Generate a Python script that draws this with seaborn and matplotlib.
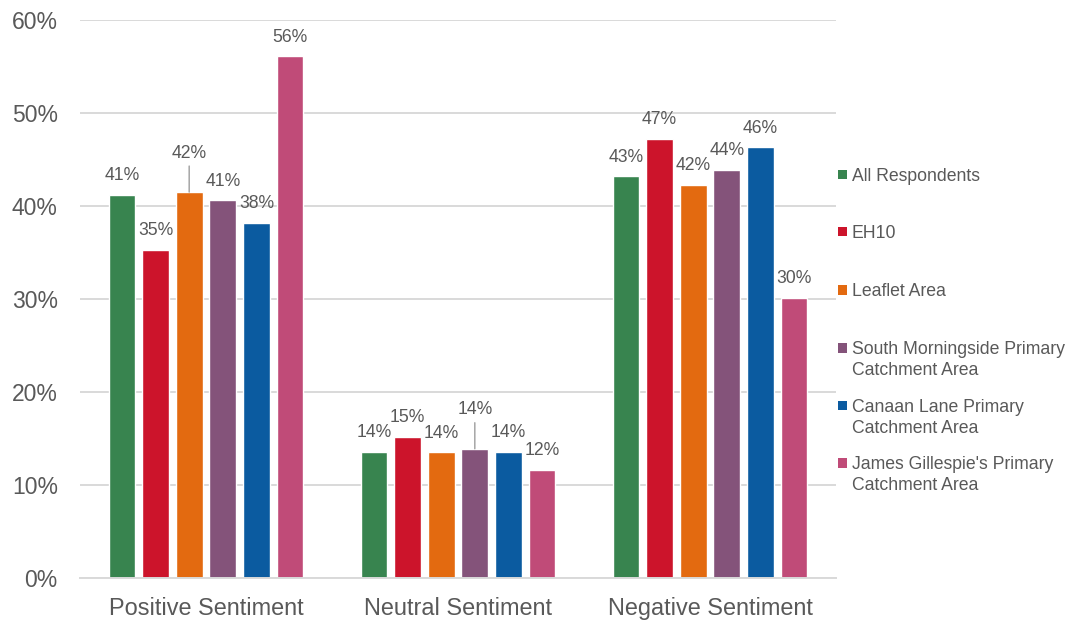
import matplotlib
matplotlib.use("Agg")
import matplotlib.pyplot as plt
from matplotlib.patches import Rectangle
import seaborn as sns
import pandas as pd

# Share of respondents (%) per sentiment, for each area
categories = ["Positive Sentiment", "Neutral Sentiment", "Negative Sentiment"]
groups = [
    "All Respondents",
    "EH10",
    "Leaflet Area",
    "South Morningside Primary\nCatchment Area",
    "Canaan Lane Primary\nCatchment Area",
    "James Gillespie's Primary\nCatchment Area",
]
all_respondents = [41.2, 13.6, 43.2]
eh10 = [35.3, 15.2, 47.2]
leaflet_area = [41.5, 13.5, 42.3]
south_morningside = [40.6, 13.9, 43.9]
canaan_lane = [38.2, 13.6, 46.3]
james_gillespies = [56.1, 11.6, 30.1]
colors = ["#38844f", "#cc142b", "#e36a10", "#84537a", "#0b5ba0", "#c04b78"]
yticks = [0, 10, 20, 30, 40, 50, 60]

series = [all_respondents, eh10, leaflet_area, south_morningside, canaan_lane, james_gillespies]
df = pd.DataFrame(
    [(cat, grp, vals[i]) for grp, vals in zip(groups, series) for i, cat in enumerate(categories)],
    columns=["sentiment", "area", "pct"],
)

sns.set_style("white")
plt.rcParams["font.family"] = ["Liberation Sans", "DejaVu Sans"]
TEXT = "#595959"
GRID = "#d9d9d9"

fig = plt.figure(figsize=(10.75, 6.21), dpi=100)
ax = fig.add_axes([80 / 1075, 1 - 578 / 621, (836 - 80) / 1075, (578 - 20) / 621])

sns.barplot(
    data=df, x="sentiment", y="pct", hue="area", order=categories, hue_order=groups,
    palette=colors, width=0.8, gap=0.2, saturation=1, legend=False, ax=ax,
)

ax.set_xlim(-0.5, 2.5)
ax.set_ylim(0, 60)
ax.set_yticks(yticks)
ax.set_yticklabels([f"{t}%" for t in yticks])
ax.set_xlabel("")
ax.set_ylabel("")
ax.yaxis.grid(True, color=GRID, lw=1.4)
ax.set_axisbelow(True)
for side in ["left", "right", "top"]:
    ax.spines[side].set_visible(False)
ax.spines["bottom"].set_color(GRID)
ax.spines["bottom"].set_linewidth(1.4)
ax.tick_params(axis="y", length=0, pad=16, labelsize=16.5, labelcolor=TEXT)
ax.tick_params(axis="x", length=0, pad=14, labelsize=16.9, labelcolor=TEXT)

# Value labels; two of them sit higher with a leader line
raised = {(2, 0), (3, 1)}
for gi, cont in enumerate(ax.containers):
    for ci, bar in enumerate(cont):
        v = bar.get_height()
        x = bar.get_x() + bar.get_width() / 2
        label = f"{int(v + 0.5)}%"
        if (gi, ci) in raised:
            ax.annotate("", xy=(x, v), xytext=(0, 18.7), textcoords="offset points",
                        arrowprops=dict(arrowstyle="-", color="#a6a6a6", lw=1.1,
                                        shrinkA=0, shrinkB=0))
            off = 24.7
        else:
            off = 10.6
        ax.annotate(label, xy=(x, v), xytext=(0, off), textcoords="offset points",
                    ha="center", va="baseline", fontsize=12.7, color=TEXT)

# Legend on the right, one entry per area
W, H = 1075, 621
entry_y = [174.5, 231.5, 290, 348, 405.5, 463]
for grp, col, yc in zip(groups, colors, entry_y):
    fig.patches.append(Rectangle(((837.5) / W, 1 - (yc + 4.6) / H), 9.2 / W, 9.2 / H,
                                 transform=fig.transFigure, facecolor=col, edgecolor="none"))
    for k, line in enumerate(grp.split("\n")):
        fig.text(851.5 / W, 1 - (yc + 6.3 + 21 * k) / H, line, ha="left", va="baseline",
                 fontsize=12.7, color=TEXT)

fig.savefig("out.png", dpi=100)
